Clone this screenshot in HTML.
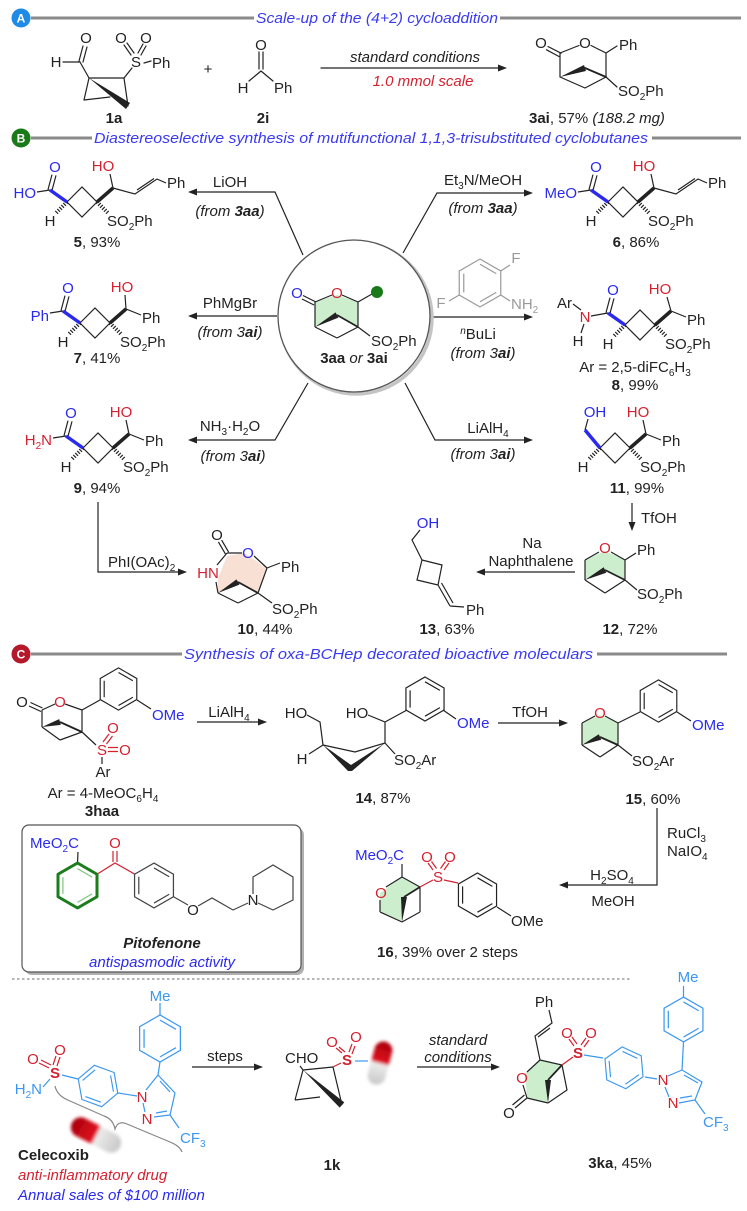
<!DOCTYPE html>
<html><head><meta charset="utf-8"><title>scheme</title>
<style>
html,body{margin:0;padding:0;background:#fff}
svg{display:block}
text{font-family:"Liberation Sans",Arial,sans-serif;font-size:15px;fill:#222}
.b{font-weight:bold}.i{font-style:italic}
.bl{fill:#2a2aee}.rd{fill:#d42130}.lb{fill:#3b97ef}.gy{fill:#9a9a9a}
.hd{fill:#3a3af2;font-style:italic;font-size:15px}
.bw{fill:#fff;font-weight:bold;font-size:12px}
</style></head><body>
<svg width="747" height="1211" viewBox="0 0 747 1211" xmlns="http://www.w3.org/2000/svg">
<defs>
<g id="hx"><polygon points="0,-22 19.05,-11 19.05,11 0,22 -19.05,11 -19.05,-11" fill="none"/><path d="M0,-17.2L14.9,-8.6M14.9,8.6L0,17.2M-14.9,8.6L-14.9,-8.6" fill="none"/></g>
<linearGradient id="pg" x1="0" y1="0" x2="1" y2="0"><stop offset="0" stop-color="#a8000a"/><stop offset="0.48" stop-color="#e01020"/><stop offset="0.52" stop-color="#ececec"/><stop offset="1" stop-color="#c8c8c8"/></linearGradient>
<filter id="bf" x="-40%" y="-40%" width="180%" height="180%"><feGaussianBlur stdDeviation="1.6"/></filter>
</defs>

<!-- ===== Section A ===== -->
<circle cx="21" cy="18" r="9.5" fill="#1f8be6"/>
<text x="21" y="22.5" text-anchor="middle" class="bw">A</text>
<line x1="31" y1="18" x2="254" y2="18" stroke="#8a8a8a" stroke-width="3"/>
<text x="256" y="23" class="hd" textLength="242" lengthAdjust="spacingAndGlyphs">Scale-up of the (4+2) cycloaddition</text>
<line x1="500" y1="18" x2="741" y2="18" stroke="#8a8a8a" stroke-width="3"/>

<g stroke="#222" stroke-width="1.2" fill="none" stroke-linecap="round">
<path d="M63,62L80,62M79,61L83,46M83,62L87,47M80,62L89,78M89,78L124,78M89,78L84,100M84,100L110,97M124,78L128,106M124,78L132,68M131,55L124,45M134,53L127,43M138,53L143,44M141,55L146,46M144,63L151,61"/>
<path d="M259,52L259,69M263,52L263,69M261,71L249,81M261,71L273,81"/>
<path d="M321,68L498,68"/>
<path d="M548,46.5L561,53.2M546.5,49.8L559,56.5M560,53L579,45.5M591,45.5L606,53M606,53L617,46M606,53L606,77M606,77L585,88M585,88L560,77M560,77L560,53M606,77L617,87"/>
<path d="M585,68L606,77" stroke-width="1.8"/>
</g>
<polygon points="89,78 130,103 126,109" fill="#222"/>
<polygon points="507,68 498,64.5 498,71.5" fill="#222"/>
<polygon points="560,77 586,71 584,65" fill="#222"/>
<text x="56" y="67" text-anchor="middle">H</text>
<text x="86" y="43" text-anchor="middle">O</text>
<text x="136" y="67" text-anchor="middle">S</text>
<text x="121" y="43" text-anchor="middle">O</text>
<text x="146" y="43" text-anchor="middle">O</text>
<text x="152" y="68">Ph</text>
<text x="114" y="123" text-anchor="middle" class="b">1a</text>
<text x="208" y="74" text-anchor="middle">+</text>
<text x="261" y="50" text-anchor="middle">O</text>
<text x="243" y="93" text-anchor="middle">H</text>
<text x="274" y="93">Ph</text>
<text x="263" y="123" text-anchor="middle" class="b">2i</text>
<text x="415" y="62" text-anchor="middle" class="i">standard conditions</text>
<text x="423" y="86" text-anchor="middle" class="i rd">1.0 mmol scale</text>
<text x="541" y="48" text-anchor="middle">O</text>
<text x="585" y="48" text-anchor="middle">O</text>
<text x="619" y="50">Ph</text>
<text x="618" y="96">SO<tspan dy="4" font-size="10">2</tspan><tspan dy="-4">Ph</tspan></text>
<text x="529" y="123"><tspan class="b">3ai</tspan>, 57% <tspan class="i">(188.2 mg)</tspan></text>

<!-- ===== Section B ===== -->
<circle cx="21" cy="138" r="9.5" fill="#1a7a1a"/>
<text x="21" y="142.5" text-anchor="middle" class="bw">B</text>
<line x1="31" y1="138" x2="92" y2="138" stroke="#8a8a8a" stroke-width="3"/>
<text x="94" y="143" class="hd" textLength="554" lengthAdjust="spacingAndGlyphs">Diastereoselective synthesis of mutifunctional 1,1,3-trisubstituted cyclobutanes</text>
<line x1="652" y1="138" x2="741" y2="138" stroke="#8a8a8a" stroke-width="3"/>

<!-- arrows around circle -->
<g stroke="#222" stroke-width="1.2" fill="none">
<path d="M303,255L275,192L196,192M403,253L437,193L525,193M277,316L196,316M433,317L525,317M308,383L275,440L196,440M405,383L435,440L525,440"/>
</g>
<g fill="#222">
<polygon points="188,192 197,188.5 197,195.5"/>
<polygon points="533,193 524,189.5 524,196.5"/>
<polygon points="188,316 197,312.5 197,319.5"/>
<polygon points="533,317 524,313.5 524,320.5"/>
<polygon points="188,440 197,436.5 197,443.5"/>
<polygon points="533,440 524,436.5 524,443.5"/>
</g>
<text x="230" y="187" text-anchor="middle">LiOH</text>
<text x="230" y="216" text-anchor="middle" class="i">(from <tspan class="b">3aa</tspan>)</text>
<text x="483" y="185" text-anchor="middle">Et<tspan dy="4" font-size="10">3</tspan><tspan dy="-4">N/MeOH</tspan></text>
<text x="483" y="213" text-anchor="middle" class="i">(from <tspan class="b">3aa</tspan>)</text>
<text x="230" y="308" text-anchor="middle">PhMgBr</text>
<text x="230" y="337" text-anchor="middle" class="i">(from 3<tspan class="b">ai</tspan>)</text>
<text x="478" y="339" text-anchor="middle"><tspan font-size="10" dy="-5" class="i">n</tspan><tspan dy="5">BuLi</tspan></text>
<text x="483" y="358" text-anchor="middle" class="i">(from 3<tspan class="b">ai</tspan>)</text>
<text x="230" y="431" text-anchor="middle">NH<tspan dy="4" font-size="10">3</tspan><tspan dy="-4">·H</tspan><tspan dy="4" font-size="10">2</tspan><tspan dy="-4">O</tspan></text>
<text x="233" y="461" text-anchor="middle" class="i">(from 3<tspan class="b">ai</tspan>)</text>
<text x="488" y="433" text-anchor="middle">LiAlH<tspan dy="4" font-size="10">4</tspan></text>
<text x="483" y="459" text-anchor="middle" class="i">(from 3<tspan class="b">ai</tspan>)</text>

<!-- aniline -->
<use href="#hx" transform="translate(480,283) scale(1.09)" stroke="#9a9a9a" stroke-width="1.1"/>
<g stroke="#9a9a9a" stroke-width="1.2"><path d="M500.8,271L510,265M459.2,295L449,301M500.8,295L510,301"/></g>
<text x="516" y="263" text-anchor="middle" class="gy">F</text>
<text x="441" y="308" text-anchor="middle" class="gy">F</text>
<text x="511" y="309" class="gy">NH<tspan dy="4" font-size="10">2</tspan></text>

<!-- center circle -->
<circle cx="356" cy="318" r="76" fill="none" stroke="#c4c4c4" stroke-width="3.5"/>
<circle cx="354" cy="316" r="76" fill="#fff" stroke="#555" stroke-width="1.3"/>
<polygon points="315,302 337,295 358,302 358,327 337,315 315,327" fill="#cdeecd"/>
<g stroke="#222" stroke-width="1.2" fill="none">
<path d="M303,295.5L316,302M302,299L314,305M315,302L332,295M342,295L358,302M358,302L372,294M358,302L358,327M358,327L337,338M337,338L315,327M315,327L315,302M358,327L370,336"/>
<path d="M337,315L358,327" stroke-width="1.8"/>
</g>
<polygon points="315,327 338.4,317.6 335.6,312.4" fill="#222"/>
<circle cx="377" cy="292" r="6" fill="#1a7a1a"/>
<text x="297" y="298" text-anchor="middle" class="bl">O</text>
<text x="337" y="298" text-anchor="middle" class="rd">O</text>
<text x="371" y="346">SO<tspan dy="4" font-size="10">2</tspan><tspan dy="-4">Ph</tspan></text>
<text x="354" y="363" text-anchor="middle"><tspan class="b">3aa</tspan> <tspan class="i">or</tspan> <tspan class="b">3ai</tspan></text>

<!-- compound 5 -->
<g transform="translate(67,202)">
<g stroke="#222" stroke-width="1.2" fill="none">
<path d="M0,0L15,-15L30,0L15,15Z M-19,-12.4L-15,-27.4M-15,-11.6L-11,-26.6M-17,-12L-30,-10M46,-14L43,-28M46,-14L68,-8L90,-23L99,-19M70,-12L87,-23.5"/>
<path d="M0,0L-11,11M30,0L41,11" stroke-width="4" stroke-dasharray="1.2,1.6"/>
<path d="M30,0L46,-14" stroke-width="3.5"/>
<path d="M0,0L-17,-12" stroke="#2a2aee" stroke-width="3.5"/>
</g>
<text x="-12" y="-30" text-anchor="middle" class="bl">O</text>
<text x="-31" y="-4" text-anchor="end" class="bl">HO</text>
<text x="-17" y="24" text-anchor="middle">H</text>
<text x="36" y="-31" text-anchor="middle" class="rd">HO</text>
<text x="100" y="-14">Ph</text>
<text x="40" y="24">SO<tspan dy="4" font-size="10">2</tspan><tspan dy="-4">Ph</tspan></text>
<text x="30" y="45" text-anchor="middle"><tspan class="b">5</tspan>, 93%</text>
</g>

<!-- compound 6 -->
<g transform="translate(608,202)">
<g stroke="#222" stroke-width="1.2" fill="none">
<path d="M0,0L15,-15L30,0L15,15Z M-19,-12.4L-15,-27.4M-15,-11.6L-11,-26.6M-17,-12L-30,-10M46,-14L43,-28M46,-14L68,-8L90,-23L99,-19M70,-12L87,-23.5"/>
<path d="M0,0L-11,11M30,0L41,11" stroke-width="4" stroke-dasharray="1.2,1.6"/>
<path d="M30,0L46,-14" stroke-width="3.5"/>
<path d="M0,0L-17,-12" stroke="#2a2aee" stroke-width="3.5"/>
</g>
<text x="-12" y="-30" text-anchor="middle" class="bl">O</text>
<text x="-31" y="-4" text-anchor="end" class="bl">MeO</text>
<text x="-17" y="24" text-anchor="middle">H</text>
<text x="36" y="-31" text-anchor="middle" class="rd">HO</text>
<text x="100" y="-14">Ph</text>
<text x="40" y="24">SO<tspan dy="4" font-size="10">2</tspan><tspan dy="-4">Ph</tspan></text>
<text x="28" y="45" text-anchor="middle"><tspan class="b">6</tspan>, 86%</text>
</g>

<!-- compound 7 -->
<g transform="translate(80,323)">
<g stroke="#222" stroke-width="1.2" fill="none">
<path d="M0,0L15,-15L30,0L15,15Z M-19,-12.4L-15,-27.4M-15,-11.6L-11,-26.6M-17,-12L-30,-10M46,-14L45,-28M46,-14L61,-8"/>
<path d="M0,0L-11,11M30,0L41,11" stroke-width="4" stroke-dasharray="1.2,1.6"/>
<path d="M30,0L46,-14" stroke-width="3.5"/>
<path d="M0,0L-17,-12" stroke="#2a2aee" stroke-width="3.5"/>
</g>
<text x="-12" y="-30" text-anchor="middle" class="bl">O</text>
<text x="-31" y="-2" text-anchor="end" class="bl">Ph</text>
<text x="-17" y="24" text-anchor="middle">H</text>
<text x="42" y="-31" text-anchor="middle" class="rd">HO</text>
<text x="62" y="0">Ph</text>
<text x="40" y="24">SO<tspan dy="4" font-size="10">2</tspan><tspan dy="-4">Ph</tspan></text>
<text x="17" y="40" text-anchor="middle"><tspan class="b">7</tspan>, 41%</text>
</g>

<!-- compound 8 -->
<g transform="translate(625,325)">
<g stroke="#222" stroke-width="1.2" fill="none">
<path d="M0,0L15,-15L30,0L15,15Z M-19,-12.4L-15,-27.4M-15,-11.6L-11,-26.6M-17,-12L-34,-9M-44,-15L-52,-21M-41,-1L-44,8M46,-14L42,-28M46,-14L61,-8"/>
<path d="M0,0L-11,11M30,0L41,11" stroke-width="4" stroke-dasharray="1.2,1.6"/>
<path d="M30,0L46,-14" stroke-width="3.5"/>
<path d="M0,0L-17,-12" stroke="#2a2aee" stroke-width="3.5"/>
</g>
<text x="-12" y="-30" text-anchor="middle" class="bl">O</text>
<text x="-40" y="-3" text-anchor="middle" class="rd">N</text>
<text x="-53" y="-17" text-anchor="end">Ar</text>
<text x="-47" y="21" text-anchor="middle">H</text>
<text x="-17" y="24" text-anchor="middle">H</text>
<text x="35" y="-31" text-anchor="middle" class="rd">HO</text>
<text x="62" y="0">Ph</text>
<text x="40" y="24">SO<tspan dy="4" font-size="10">2</tspan><tspan dy="-4">Ph</tspan></text>
<text x="10" y="47" text-anchor="middle">Ar = 2,5-diFC<tspan dy="4" font-size="10">6</tspan><tspan dy="-4">H</tspan><tspan dy="4" font-size="10">3</tspan></text>
<text x="10" y="65" text-anchor="middle"><tspan class="b">8</tspan>, 99%</text>
</g>

<!-- compound 9 -->
<g transform="translate(83,448)">
<g stroke="#222" stroke-width="1.2" fill="none">
<path d="M0,0L15,-15L30,0L15,15Z M-19,-12.4L-15,-27.4M-15,-11.6L-11,-26.6M-17,-12L-30,-10M46,-14L43,-28M46,-14L61,-8"/>
<path d="M0,0L-11,11M30,0L41,11" stroke-width="4" stroke-dasharray="1.2,1.6"/>
<path d="M30,0L46,-14" stroke-width="3.5"/>
<path d="M0,0L-17,-12" stroke="#2a2aee" stroke-width="3.5"/>
</g>
<text x="-12" y="-30" text-anchor="middle" class="bl">O</text>
<text x="-31" y="-3" text-anchor="end" class="rd">H<tspan dy="4" font-size="10">2</tspan><tspan dy="-4">N</tspan></text>
<text x="-17" y="24" text-anchor="middle">H</text>
<text x="38" y="-31" text-anchor="middle" class="rd">HO</text>
<text x="62" y="-2">Ph</text>
<text x="40" y="24">SO<tspan dy="4" font-size="10">2</tspan><tspan dy="-4">Ph</tspan></text>
<text x="14" y="45" text-anchor="middle"><tspan class="b">9</tspan>, 94%</text>
</g>

<!-- compound 11 -->
<g transform="translate(600,448)">
<g stroke="#222" stroke-width="1.2" fill="none">
<path d="M0,0L15,-15L30,0L15,15Z M-15,-18L-12,-29M46,-14L43,-28M46,-14L61,-8"/>
<path d="M0,0L-11,11M30,0L41,11" stroke-width="4" stroke-dasharray="1.2,1.6"/>
<path d="M30,0L46,-14" stroke-width="3.5"/>
<path d="M0,0L-15,-18" stroke="#2a2aee" stroke-width="3.5"/>
</g>
<text x="-5" y="-31" text-anchor="middle" class="bl">OH</text>
<text x="-17" y="24" text-anchor="middle">H</text>
<text x="38" y="-31" text-anchor="middle" class="rd">HO</text>
<text x="62" y="-2">Ph</text>
<text x="40" y="24">SO<tspan dy="4" font-size="10">2</tspan><tspan dy="-4">Ph</tspan></text>
<text x="37" y="45" text-anchor="middle"><tspan class="b">11</tspan>, 99%</text>
</g>

<!-- 9 -> 10 arrow -->
<g stroke="#222" stroke-width="1.2" fill="none"><path d="M98,502L98,572L179,572M632,503L632,523M575,572L484,572"/></g>
<polygon points="187,572 178,568.5 178,575.5" fill="#222"/>
<polygon points="632,531 628.5,522 635.5,522" fill="#222"/>
<polygon points="476,572 485,568.5 485,575.5" fill="#222"/>
<text x="108" y="567">PhI(OAc)<tspan dy="4" font-size="10">2</tspan></text>
<text x="641" y="523">TfOH</text>
<text x="532" y="548" text-anchor="middle">Na</text>
<text x="531" y="566" text-anchor="middle">Naphthalene</text>

<!-- compound 10 -->
<polygon points="218,578 227,556 245,553 266,568 258,593 238,582 218,593" fill="#f8e0d4"/>
<g stroke="#222" stroke-width="1.2" fill="none">
<path d="M228.6,552.1L221.6,540.1M225.4,553.9L218.4,541.9M227,553L242,553M254,556L267,568M267,568L280,563M267,568L258,593M258,593L238,603M238,603L218,593M218,593L216,582M217,565L227,553M258,593L272,603"/>
<path d="M238,582L258,593" stroke-width="1.8"/>
</g>
<polygon points="218,593 239.5,584.6 236.5,579.4" fill="#222"/>
<text x="217" y="540" text-anchor="middle">O</text>
<text x="248" y="558" text-anchor="middle" class="bl">O</text>
<text x="208" y="578" text-anchor="middle" class="rd">HN</text>
<text x="281" y="572">Ph</text>
<text x="272" y="614">SO<tspan dy="4" font-size="10">2</tspan><tspan dy="-4">Ph</tspan></text>
<text x="265" y="634" text-anchor="middle"><tspan class="b">10</tspan>, 44%</text>

<!-- compound 12 -->
<polygon points="585,560 605,551 625,560 625,580 605,570 585,580" fill="#cdeecd"/>
<g stroke="#222" stroke-width="1.2" fill="none">
<path d="M585,560L599,552M611,552L625,560M625,560L625,580M625,580L605,593M605,593L585,580M585,580L585,560M625,560L636,553M625,580L637,590"/>
<path d="M605,570L625,580" stroke-width="1.8"/>
</g>
<polygon points="585,580 606.3,572.7 603.7,567.3" fill="#222"/>
<text x="605" y="553" text-anchor="middle" class="rd">O</text>
<text x="637" y="555">Ph</text>
<text x="637" y="599">SO<tspan dy="4" font-size="10">2</tspan><tspan dy="-4">Ph</tspan></text>
<text x="630" y="634" text-anchor="middle"><tspan class="b">12</tspan>, 72%</text>

<!-- compound 13 -->
<g stroke="#222" stroke-width="1.2" fill="none">
<path d="M420,530L412,540L422,560M422,560L442,565L438,585L417,580Z M438,585L450,606M441.5,583L453,603M450,606L464,607"/>
</g>
<text x="428" y="528" text-anchor="middle" class="bl">OH</text>
<text x="466" y="615">Ph</text>
<text x="447" y="634" text-anchor="middle"><tspan class="b">13</tspan>, 63%</text>

<!-- ===== Section C ===== -->
<circle cx="21" cy="654" r="9.5" fill="#b5172b"/>
<text x="21" y="658.5" text-anchor="middle" class="bw">C</text>
<line x1="31" y1="654" x2="182" y2="654" stroke="#8a8a8a" stroke-width="3"/>
<text x="184" y="659" class="hd" textLength="409" lengthAdjust="spacingAndGlyphs">Synthesis of oxa-BCHep decorated bioactive moleculars</text>
<line x1="597" y1="654" x2="727" y2="654" stroke="#8a8a8a" stroke-width="3"/>

<!-- 3haa -->
<g stroke="#222" stroke-width="1.2" fill="none">
<path d="M41,711.5L29,706M42.5,708L30.5,702.5M42,710L55,704M65,704L82,710M82,710L82,732M82,732L60,740M60,740L42,727M42,727L42,710M82,710L100,700M137,700L151,709M82,732L96,745M102,757L102,764"/>
<path d="M60,722L82,732" stroke-width="1.8"/>
</g>
<g stroke="#d42130" stroke-width="1.2"><path d="M103,742L109,734M106.5,744L112.5,736M108,747.5L118,747.5M108,751.5L118,751.5"/></g>
<polygon points="42,727 60.8,724.9 59.2,719.1" fill="#222"/>
<use href="#hx" transform="translate(118.5,689) scale(0.96)" stroke="#222" stroke-width="1.2"/>
<text x="22" y="707" text-anchor="middle">O</text>
<text x="60" y="707" text-anchor="middle" class="rd">O</text>
<text x="152" y="720" class="bl">OMe</text>
<text x="102" y="755" text-anchor="middle" class="rd">S</text>
<text x="113" y="733" text-anchor="middle" class="rd">O</text>
<text x="125" y="755" text-anchor="middle" class="rd">O</text>
<text x="103" y="777" text-anchor="middle">Ar</text>
<text x="103" y="798" text-anchor="middle">Ar = 4-MeOC<tspan dy="4" font-size="10">6</tspan><tspan dy="-4">H</tspan><tspan dy="4" font-size="10">4</tspan></text>
<text x="102" y="816" text-anchor="middle" class="b">3haa</text>

<g stroke="#222" stroke-width="1.2" fill="none"><path d="M197,722L259,722M498,723L560,723M657,808L657,885L567,885M192,1067L255,1067M417,1067L492,1067"/></g>
<g fill="#222">
<polygon points="267,722 258,718.5 258,725.5"/>
<polygon points="568,723 559,719.5 559,726.5"/>
<polygon points="559,885 568,881.5 568,888.5"/>
<polygon points="263,1067 254,1063.5 254,1070.5"/>
<polygon points="500,1067 491,1063.5 491,1070.5"/>
</g>
<text x="229" y="717" text-anchor="middle">LiAlH<tspan dy="4" font-size="10">4</tspan></text>
<text x="530" y="717" text-anchor="middle">TfOH</text>
<text x="667" y="838">RuCl<tspan dy="4" font-size="10">3</tspan></text>
<text x="667" y="856">NaIO<tspan dy="4" font-size="10">4</tspan></text>
<text x="612" y="880" text-anchor="middle">H<tspan dy="4" font-size="10">2</tspan><tspan dy="-4">SO</tspan><tspan dy="4" font-size="10">4</tspan></text>
<text x="613" y="906" text-anchor="middle">MeOH</text>

<!-- 14 -->
<g stroke="#222" stroke-width="1.2" fill="none">
<path d="M307,715L320,722L323,745M323,745L309,754M323,745L355,752L385,743M385,743L385,722M368,715L385,722M385,722L407,710M443,710L456,719M385,743L395,754"/>
</g>
<polygon points="323,745 348,771 352,771 385,743 351,765" fill="#222"/>
<use href="#hx" transform="translate(425,699)" stroke="#222" stroke-width="1.2"/>
<text x="296" y="718" text-anchor="middle">HO</text>
<text x="357" y="718" text-anchor="middle">HO</text>
<text x="302" y="764" text-anchor="middle">H</text>
<text x="457" y="728" class="bl">OMe</text>
<text x="394" y="765">SO<tspan dy="4" font-size="10">2</tspan><tspan dy="-4">Ar</tspan></text>
<text x="383" y="803" text-anchor="middle"><tspan class="b">14</tspan>, 87%</text>

<!-- 15 -->
<polygon points="582,723 600,715 618,723 618,745 600,737 582,745" fill="#cdeecd"/>
<g stroke="#222" stroke-width="1.2" fill="none">
<path d="M582,723L595,716M605,716L618,723M618,723L618,745M618,745L600,757M600,757L582,745M582,745L582,723M618,723L640,712M677,712L691,721M618,745L632,756"/>
<path d="M600,737L618,745" stroke-width="1.8"/>
</g>
<polygon points="582,745 601.2,739.7 598.8,734.3" fill="#222"/>
<use href="#hx" transform="translate(658.5,701) scale(0.96)" stroke="#222" stroke-width="1.2"/>
<text x="600" y="718" text-anchor="middle" class="rd">O</text>
<text x="692" y="730" class="bl">OMe</text>
<text x="632" y="766">SO<tspan dy="4" font-size="10">2</tspan><tspan dy="-4">Ar</tspan></text>
<text x="653" y="804" text-anchor="middle"><tspan class="b">15</tspan>, 60%</text>

<!-- 16 -->
<polygon points="380,893 402,877 420,887 404,897 402,922 380,912" fill="#cdeecd"/>
<g stroke="#222" stroke-width="1.2" fill="none">
<path d="M402,864L402,877M386,887L402,877M402,877L420,887M420,887L420,912M420,912L402,922M402,922L380,912M380,912L380,900M497,907L511,916"/>
<path d="M404,897L420,887" stroke-width="1.8"/>
</g>
<g stroke="#d42130" stroke-width="1.2"><path d="M420,887L433,880M444,880L458,883M433,870L428,863M436.5,868.5L431.5,861.5M440.5,868.5L445.5,861.5M444,870L449,863"/></g>
<polygon points="402,922 407,897 401,897" fill="#222"/>
<use href="#hx" transform="translate(477.5,895)" stroke="#222" stroke-width="1.2"/>
<text x="404" y="860" text-anchor="end" class="bl">MeO<tspan dy="4" font-size="10">2</tspan><tspan dy="-4">C</tspan></text>
<text x="381" y="898" text-anchor="middle" class="rd">O</text>
<text x="438" y="882" text-anchor="middle" class="rd">S</text>
<text x="427" y="862" text-anchor="middle" class="rd">O</text>
<text x="450" y="862" text-anchor="middle" class="rd">O</text>
<text x="511" y="926">OMe</text>
<text x="377" y="957"><tspan class="b">16</tspan>, 39% over 2 steps</text>

<!-- Pitofenone box -->
<rect x="25" y="828" width="279" height="147" rx="7" fill="#b0b0b0"/>
<rect x="22" y="825" width="279" height="147" rx="7" fill="#fff" stroke="#555" stroke-width="1.2"/>
<text x="30" y="848" class="bl">MeO<tspan dy="4" font-size="10">2</tspan><tspan dy="-4">C</tspan></text>
<g stroke="#222" stroke-width="1.2" fill="none"><path d="M78,852L77.5,863"/></g>
<polygon points="77.5,863 97,874.25 97,896.75 77.5,908 58,896.75 58,874.25" fill="none" stroke="#1b7d1b" stroke-width="3" stroke-linejoin="round"/>
<path d="M77.5,868.6L92.1,877.1M92.1,893.9L77.5,902.4M62.9,893.9L62.9,877.1" stroke="#7cc47c" stroke-width="1.2" fill="none"/>
<g stroke="#d42130" stroke-width="1.2" fill="none"><path d="M97,874.25L115,863L135,874.25M113,862L113,851M117,862L117,851"/></g>
<text x="115" y="848" text-anchor="middle" class="rd">O</text>
<use href="#hx" transform="translate(154,885.5) scale(1.02)" stroke="#444" stroke-width="1.2"/>
<g stroke="#444" stroke-width="1.2" fill="none">
<path d="M173.5,896.75L188,905M198,906L212,898L233,910L248,903M258,903L273,910L293,900L293,877L273,865L253,877L253,894"/>
</g>
<text x="193" y="915" text-anchor="middle">O</text>
<text x="253" y="905" text-anchor="middle">N</text>
<text x="162" y="948" text-anchor="middle" class="b i">Pitofenone</text>
<text x="162" y="967" text-anchor="middle" class="i bl">antispasmodic activity</text>

<line x1="12" y1="979" x2="630" y2="979" stroke="#8a8a8a" stroke-width="1.3" stroke-dasharray="2.5,2.5"/>

<!-- Celecoxib -->
<g stroke="#3b97ef" stroke-width="1.2" fill="none">
<path d="M160,1003L160,1015M160,1062L158,1075M158,1075L175,1093L170,1115L154,1117M160,1081L170,1092M167,1111L156,1113M146,1090L158,1075M143,1103L145,1112M137,1096L118,1093M170,1115L179,1128M78,1079L62,1075M43,1087L50,1079"/>
</g>
<use href="#hx" transform="translate(160,1038.5) scale(1.07)" stroke="#3b97ef" stroke-width="1.15"/>
<use href="#hx" transform="translate(98,1086) rotate(50) scale(0.955)" stroke="#3b97ef" stroke-width="1.2"/>
<g stroke="#d42130" stroke-width="1.2"><path d="M49,1068L39,1063M51,1065L41,1060M53,1065L56,1056M57,1066L60,1057"/></g>
<text x="160" y="1001" text-anchor="middle" class="lb">Me</text>
<text x="142" y="1102" text-anchor="middle" class="rd">N</text>
<text x="147" y="1124" text-anchor="middle" class="rd">N</text>
<text x="180" y="1143" class="lb">CF<tspan dy="4" font-size="10">3</tspan></text>
<text x="55" y="1078" text-anchor="middle" class="rd b">S</text>
<text x="33" y="1064" text-anchor="middle" class="rd">O</text>
<text x="60" y="1055" text-anchor="middle" class="rd">O</text>
<text x="42" y="1094" text-anchor="end" class="lb">H<tspan dy="4" font-size="10">2</tspan><tspan dy="-4">N</tspan></text>
<path d="M55,1086Q57,1096 70,1101L104,1116Q113,1119 115,1129Q118,1120 127,1124L170,1142Q180,1146 182,1152" stroke="#888" stroke-width="1.2" fill="none"/>
<g transform="translate(96,1135) rotate(27)"><rect x="-27" y="-10" width="54" height="20" rx="10" fill="url(#pg)" filter="url(#bf)"/></g>
<text x="18" y="1160" class="b">Celecoxib</text>
<text x="18" y="1180" class="i rd">anti-inflammatory drug</text>
<text x="18" y="1200" class="i bl">Annual sales of $100 million</text>

<text x="225" y="1061" text-anchor="middle">steps</text>
<text x="458" y="1045" text-anchor="middle" class="i">standard</text>
<text x="458" y="1062" text-anchor="middle" class="i">conditions</text>

<!-- 1k -->
<g stroke="#222" stroke-width="1.2" fill="none">
<path d="M300,1066L303,1070M303,1070L333,1067M303,1070L295,1100M295,1100L320,1097M333,1067L342,1105"/>
</g>
<g stroke="#d42130" stroke-width="1.2"><path d="M333,1067L341,1063M342,1053L336,1048M345,1052L339,1047M349,1052L352,1044M352,1054L355,1046"/></g>
<line x1="355" y1="1061" x2="368" y2="1061" stroke="#3b97ef" stroke-width="1.2"/>
<polygon points="303,1070 344.3,1102.4 339.7,1107.6" fill="#222"/>
<g transform="translate(380,1063) rotate(105)"><rect x="-22" y="-9" width="44" height="18" rx="9" fill="url(#pg)" filter="url(#bf)"/></g>
<text x="285" y="1063">CHO</text>
<text x="347" y="1065" text-anchor="middle" class="rd b">S</text>
<text x="332" y="1047" text-anchor="middle" class="rd">O</text>
<text x="356" y="1042" text-anchor="middle" class="rd">O</text>
<text x="332" y="1170" text-anchor="middle" class="b">1k</text>

<!-- 3ka -->
<polygon points="540,1060 525,1073 527,1098 548,1103 548,1080 562,1065" fill="#cdeecd"/>
<g stroke="#222" stroke-width="1.2" fill="none">
<path d="M549,1010L552,1023L535,1036L540,1060M550,1028L538,1037M540,1060L527,1072M523,1085L527,1098M527,1098L548,1103M548,1103L567,1090L562,1065L540,1060M527,1098L515,1108M524.5,1095L512.5,1105"/>
<path d="M548,1080L562,1065" stroke-width="1.8"/>
</g>
<polygon points="548,1103 551,1080 545,1080" fill="#222"/>
<g stroke="#d42130" stroke-width="1.2"><path d="M562,1065L573,1057M574,1046L569,1039M577,1044L572,1037M581,1045L586,1038M584,1047L589,1040"/></g>
<g stroke="#3b97ef" stroke-width="1.2" fill="none">
<path d="M584,1055L603,1058M645,1077L657,1079M668,1076L682,1070L702,1082L695,1100L679,1103M684,1075L698,1083M692,1096L680,1098M665,1087L669,1097M682,1070L683.5,1042M683.5,997L683.5,986M695,1100L705,1114"/>
</g>
<use href="#hx" transform="translate(624,1067.8) rotate(-5) scale(0.955)" stroke="#3b97ef" stroke-width="1.2"/>
<use href="#hx" transform="translate(683.5,1019.5) scale(1.02)" stroke="#3b97ef" stroke-width="1.2"/>
<text x="544" y="1007" text-anchor="middle">Ph</text>
<text x="522" y="1083" text-anchor="middle" class="rd">O</text>
<text x="509" y="1118" text-anchor="middle">O</text>
<text x="578" y="1058" text-anchor="middle" class="rd b">S</text>
<text x="567" y="1038" text-anchor="middle" class="rd">O</text>
<text x="591" y="1038" text-anchor="middle" class="rd">O</text>
<text x="663" y="1085" text-anchor="middle" class="rd">N</text>
<text x="673" y="1108" text-anchor="middle" class="rd">N</text>
<text x="703" y="1127" class="lb">CF<tspan dy="4" font-size="10">3</tspan></text>
<text x="688" y="982" text-anchor="middle" class="lb">Me</text>
<text x="620" y="1168" text-anchor="middle"><tspan class="b">3ka</tspan>, 45%</text>

</svg>
</body></html>
